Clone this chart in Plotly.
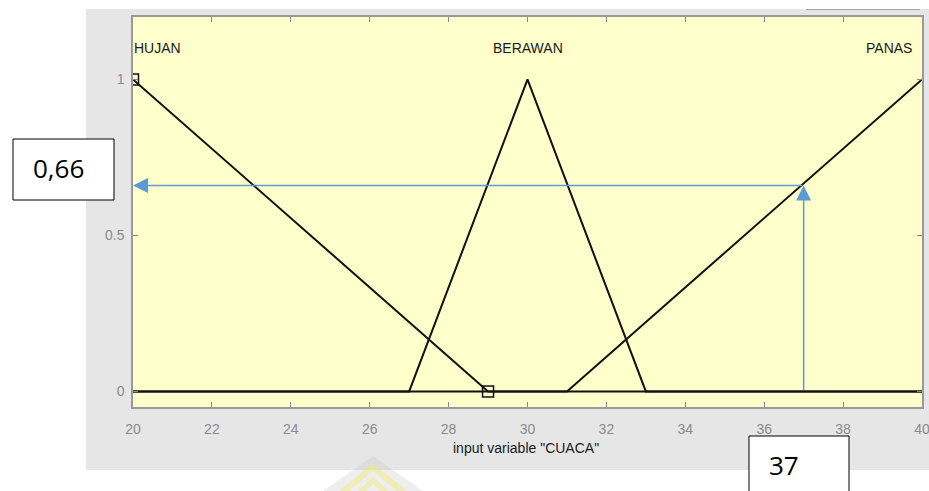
import plotly.graph_objects as go

# Membership functions of the input variable "CUACA"
x_range = [20, 40]
hujan_x = [20, 29, 40]
hujan_y = [1, 0, 0]
berawan_x = [20, 27, 30, 33, 40]
berawan_y = [0, 0, 1, 0, 0]
panas_x = [20, 31, 40]
panas_y = [0, 0, 1]

mf_names = ["HUJAN", "BERAWAN", "PANAS"]
mf_label_x = [20, 30, 40]

x_ticks = [20, 22, 24, 26, 28, 30, 32, 34, 36, 38, 40]
y_ticks = [0, 0.5, 1]
y_tick_text = ["0", "0.5", "1"]

input_value = 37
membership_value = 0.66
input_label = "37"
membership_label = "0,66"

W, H = 937, 491          # layout size (drawn width ends up 8px narrower)
W_DRAWN = W - 8
L, R, T, B = 133, 7, 17, 84
PW, PH = W_DRAWN - L - R, H - T - B


def px(x):
    return (x - L) / PW


def py(y):
    return (H - B - y) / PH


fig = go.Figure()

for xs, ys in [(hujan_x, hujan_y), (berawan_x, berawan_y), (panas_x, panas_y)]:
    fig.add_trace(go.Scatter(x=xs, y=ys, mode="lines",
                             line=dict(color="#111111", width=2),
                             hoverinfo="skip", showlegend=False))

# vertex markers of the selected function
fig.add_trace(go.Scatter(x=hujan_x[:2], y=hujan_y[:2], mode="markers",
                         marker=dict(symbol="square-open", size=11,
                                     color="#111111", line=dict(width=1.5)),
                         hoverinfo="skip", showlegend=False))

shapes = [
    # window background
    dict(type="rect", xref="paper", yref="paper", x0=px(86), x1=px(945),
         y0=py(470), y1=py(9), fillcolor="#E6E6E6", line=dict(width=0),
         layer="below"),
    # axes face
    dict(type="rect", xref="x domain", yref="y domain", x0=0, x1=1, y0=0, y1=1,
         fillcolor="#FFFFCC", line=dict(width=0), layer="below"),
    # widget edge at top right
    dict(type="line", xref="paper", yref="paper", x0=px(806), x1=px(920),
         y0=py(9.5), y1=py(9.5), line=dict(color="#A8A8A8", width=1)),
    # faint logo at the bottom
    dict(type="path", xref="paper", yref="paper",
         path=f"M {px(373)},{py(456)} L {px(316)},{py(496)} L {px(430)},{py(496)} Z",
         fillcolor="rgba(200,200,200,0.3)", line=dict(width=0), layer="below"),
    dict(type="path", xref="paper", yref="paper",
         path=(f"M {px(373)},{py(463)} L {px(333)},{py(496)} L {px(343)},{py(496)} "
               f"L {px(373)},{py(471)} L {px(403)},{py(496)} L {px(413)},{py(496)} Z"),
         fillcolor="rgba(240,232,110,0.45)", line=dict(width=0), layer="below"),
    dict(type="path", xref="paper", yref="paper",
         path=(f"M {px(373)},{py(477)} L {px(352)},{py(496)} L {px(360)},{py(496)} "
               f"L {px(373)},{py(484)} L {px(386)},{py(496)} L {px(394)},{py(496)} Z"),
         fillcolor="rgba(240,232,110,0.45)", line=dict(width=0), layer="below"),
    # value boxes
    dict(type="rect", xref="paper", yref="paper", x0=px(13), x1=px(114),
         y0=py(200), y1=py(139), fillcolor="white",
         line=dict(color="black", width=1), layer="above"),
    dict(type="rect", xref="paper", yref="paper", x0=px(749), x1=px(849),
         y0=py(500), y1=py(436), fillcolor="white",
         line=dict(color="black", width=1), layer="above"),
]

label_font = dict(family="Liberation Sans, Arial, sans-serif", size=14, color="#1a1a1a")
box_font = dict(family="Open Sans, sans-serif", size=26, color="black")

annotations = []
anchors = ["left", "center", "right"]
shifts = [-1, 0, -8]
for name, lx, anc, sh in zip(mf_names, mf_label_x, anchors, shifts):
    annotations.append(dict(x=lx, y=1.1, xref="x", yref="y", text=name,
                            showarrow=False, xanchor=anc, xshift=sh,
                            font=label_font))

annotations += [
    dict(x=px(526), y=py(448), xref="paper", yref="paper",
         text='input variable "CUACA"', showarrow=False, font=label_font,
         xanchor="center", yanchor="middle"),
    # arrow from the input value up to the membership degree
    dict(x=input_value, y=membership_value, ax=input_value, ay=0,
         xref="x", yref="y", axref="x", ayref="y", text="", showarrow=True,
         arrowhead=2, arrowsize=2, arrowwidth=1.5, arrowcolor="#5B9BD5",
         standoff=0),
    # arrow from the curve across to the membership axis
    dict(x=x_range[0], y=membership_value, ax=input_value, ay=membership_value,
         xref="x", yref="y", axref="x", ayref="y", text="", showarrow=True,
         arrowhead=2, arrowsize=2, arrowwidth=1.5, arrowcolor="#5B9BD5",
         standoff=0),
    dict(x=px(58), y=py(168), xref="paper", yref="paper", text=membership_label,
         showarrow=False, font=box_font, xanchor="center", yanchor="middle"),
    dict(x=px(784), y=py(465), xref="paper", yref="paper", text=input_label,
         showarrow=False, font=box_font, xanchor="center", yanchor="middle"),
]

tick_font = dict(family="Liberation Sans, Arial, sans-serif", size=14, color="#8a8a8a")

fig.update_layout(
    width=W, height=H, autosize=False,
    margin=dict(l=L, r=R, t=T, b=B),
    paper_bgcolor="white", plot_bgcolor="rgba(0,0,0,0)",
    shapes=shapes, annotations=annotations,
    xaxis=dict(range=x_range, tickvals=x_ticks, ticks="inside", ticklen=5,
               tickcolor="#8a8a8a", showline=True, linecolor="#999999",
               linewidth=1.5, mirror="ticks", showgrid=False, zeroline=False,
               tickfont=tick_font, ticklabelstandoff=8),
    yaxis=dict(range=[-0.05, 1.2], tickvals=y_ticks, ticktext=y_tick_text,
               ticks="inside", ticklen=5, tickcolor="#8a8a8a", showline=True,
               linecolor="#999999", linewidth=1.5, mirror="ticks",
               showgrid=False, zeroline=False, tickfont=tick_font,
               ticklabelstandoff=4),
)

fig.write_html("out.html")
